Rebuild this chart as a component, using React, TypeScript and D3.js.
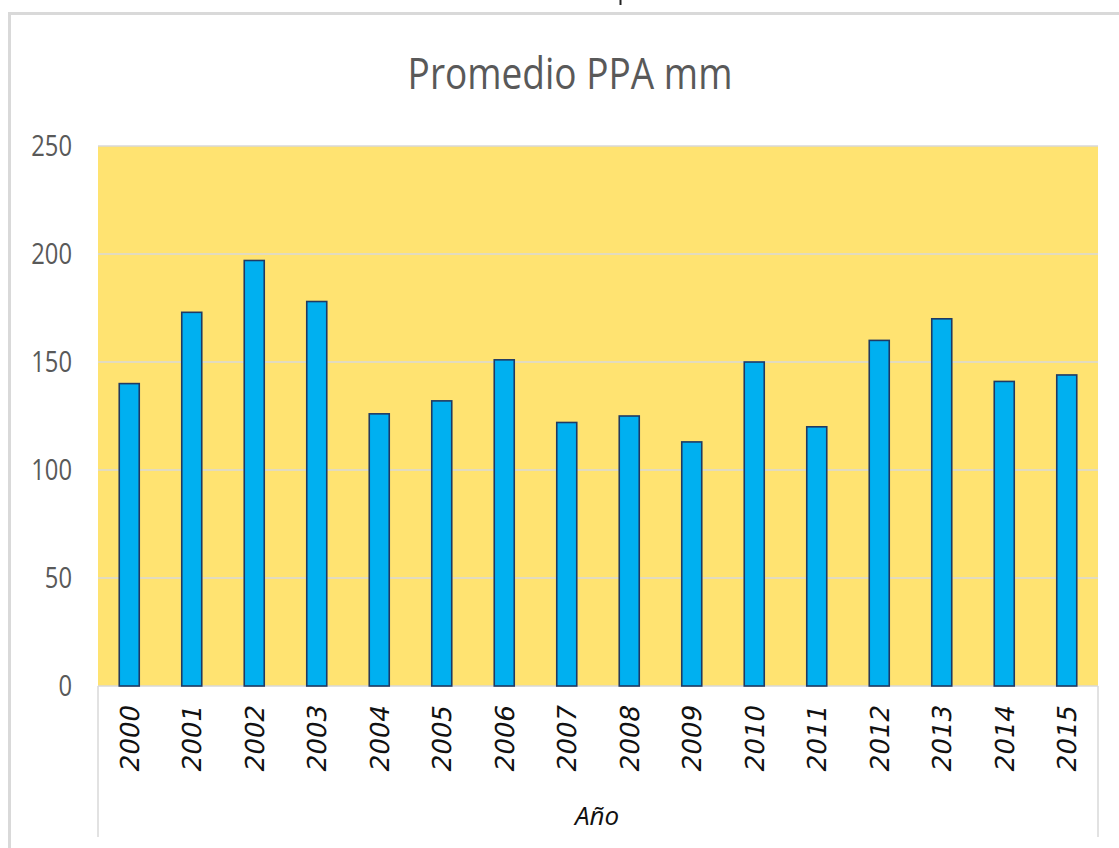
import React, { useRef, useEffect } from "react";
import * as d3 from "d3";

const years = ["2000", "2001", "2002", "2003", "2004", "2005", "2006", "2007", "2008", "2009", "2010", "2011", "2012", "2013", "2014", "2015"];
const ppa = [140, 173, 197, 178, 126, 132, 151, 122, 125, 113, 150, 120, 160, 170, 141, 144];
const yTicks = [0, 50, 100, 150, 200, 250];

const title = "Promedio PPA mm";
const xTitle = "Año";

const App = () => {
  const ref = useRef<SVGSVGElement>(null);

  useEffect(() => {
    const width = 1119;
    const height = 848;
    const plot = { left: 98, right: 1098, top: 146, bottom: 686 };
    const narrow = "'Open Sans', sans-serif";

    const svg = d3.select(ref.current).attr("width", width).attr("height", height);
    svg.selectAll("*").remove();

    svg.append("rect").attr("width", width).attr("height", height).attr("fill", "white");

    // chart frame (only top and left edges are visible)
    svg
      .append("path")
      .attr("d", `M9.5,${height} L9.5,13.5 L${width},13.5`)
      .attr("fill", "none")
      .attr("stroke", "#d9d9d9")
      .attr("stroke-width", 3);

    // cut-off glyph above the frame
    svg.append("rect").attr("x", 619.5).attr("y", 0).attr("width", 2).attr("height", 5).attr("fill", "#222");

    svg
      .append("text")
      .attr("transform", "translate(570, 89) scale(0.8, 1)")
      .attr("text-anchor", "middle")
      .attr("font-family", narrow)
      .attr("font-size", 43)
      .attr("fill", "#595959")
      .attr("textLength", 406)
      .attr("lengthAdjust", "spacingAndGlyphs")
      .text(title);

    const x = d3
      .scaleBand()
      .domain(years)
      .range([plot.left, plot.right])
      .paddingInner(0.68)
      .paddingOuter(0.34);

    const y = d3.scaleLinear().domain([0, 250]).range([plot.bottom, plot.top]);

    svg
      .append("rect")
      .attr("x", plot.left)
      .attr("y", plot.top)
      .attr("width", plot.right - plot.left)
      .attr("height", plot.bottom - plot.top)
      .attr("fill", "#ffe371");

    svg
      .selectAll(".grid")
      .data(yTicks)
      .enter()
      .append("line")
      .attr("class", "grid")
      .attr("x1", plot.left)
      .attr("x2", plot.right)
      .attr("y1", (d) => y(d))
      .attr("y2", (d) => y(d))
      .attr("stroke", "#d9d9d9")
      .attr("stroke-width", 1.5);

    // category axis box sides
    svg
      .selectAll(".cat-side")
      .data([plot.left, plot.right])
      .enter()
      .append("line")
      .attr("class", "cat-side")
      .attr("x1", (d) => d)
      .attr("x2", (d) => d)
      .attr("y1", plot.bottom)
      .attr("y2", 837)
      .attr("stroke", "#d9d9d9")
      .attr("stroke-width", 1.5);

    svg
      .selectAll(".ylab")
      .data(yTicks)
      .enter()
      .append("text")
      .attr("class", "ylab")
      .attr("transform", (d) => `translate(72, ${y(d) + 10}) scale(0.82, 1)`)
      .attr("text-anchor", "end")
      .attr("font-family", narrow)
      .attr("font-size", 29)
      .attr("fill", "#595959")
      .text((d) => d);

    svg
      .selectAll(".bar")
      .data(years)
      .enter()
      .append("rect")
      .attr("class", "bar")
      .attr("x", (d) => x(d)!)
      .attr("y", (d, i) => y(ppa[i]))
      .attr("width", x.bandwidth())
      .attr("height", (d, i) => plot.bottom - y(ppa[i]))
      .attr("fill", "#00b0f0")
      .attr("stroke", "#1f3a63")
      .attr("stroke-width", 1.6);

    svg
      .selectAll(".xlab")
      .data(years)
      .enter()
      .append("text")
      .attr("class", "xlab")
      .attr("transform", (d) => `translate(${x(d)! + x.bandwidth() / 2 + 9.5}, 707) rotate(-90) skewX(-12)`)
      .attr("text-anchor", "end")
      .attr("font-family", "'DejaVu Sans', sans-serif")
      .attr("font-size", 26)
      .attr("fill", "#111")
      .text((d) => d);

    svg
      .append("text")
      .attr("x", 597)
      .attr("y", 825)
      .attr("text-anchor", "middle")
      .attr("font-family", "'Open Sans', sans-serif")
      .attr("font-style", "italic")
      .attr("font-size", 26)
      .attr("fill", "#111")
      .text(xTitle);
  }, []);

  return (
    <div style={{ position: "absolute", left: 0, top: 0 }}>
      <svg ref={ref} style={{ display: "block" }}></svg>
    </div>
  );
};

export default App;
